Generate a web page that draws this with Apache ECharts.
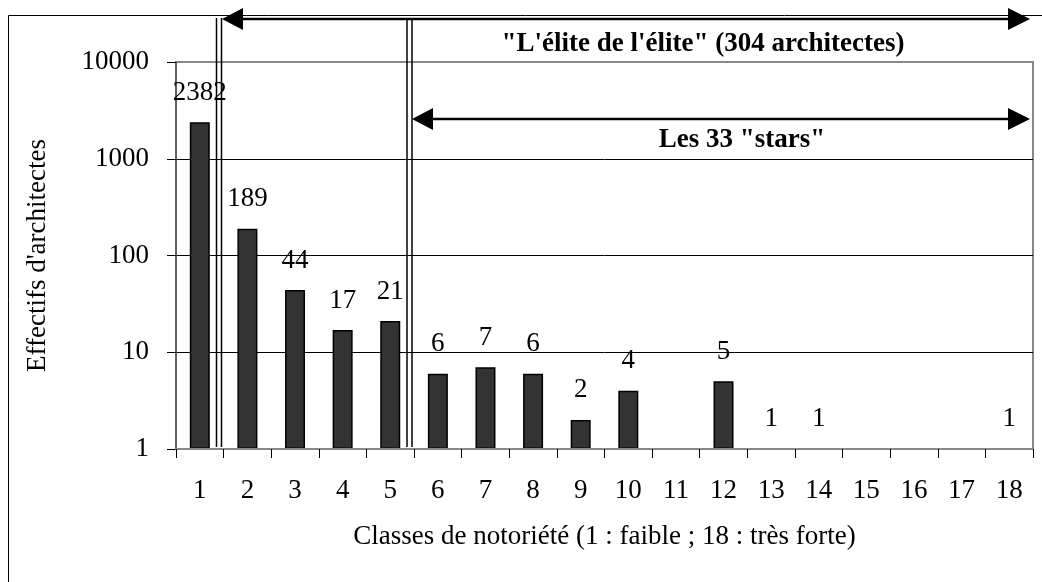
<!DOCTYPE html>
<html>
<head>
<meta charset="utf-8">
<script src="https://cdn.jsdelivr.net/npm/echarts@6/dist/echarts.min.js"></script>
<style>
    html, body { margin: 0; padding: 0; background: #ffffff; }
    #main { width: 1042px; height: 582px; }
</style>
</head>
<body>
<div id="main"></div>
<script>
    // classes de notoriété
    var categories = ['1', '2', '3', '4', '5', '6', '7', '8', '9', '10', '11', '12', '13', '14', '15', '16', '17', '18'];
    // effectifs (classes vides : '-')
    var effectifs = [2382, 189, 44, 17, 21, 6, 7, 6, 2, 4, '-', 5, 1, 1, '-', '-', '-', 1];
    var yTicks = [1, 10, 100, 1000, 10000];

    var serif = 'Liberation Serif, Times New Roman, serif';
    var chart = echarts.init(document.getElementById('main'));

    // flèche horizontale à deux pointes
    function arrow(x1, x2, y) {
        return [
            { type: 'line', shape: { x1: x1 + 18, y1: y, x2: x2 - 18, y2: y }, style: { stroke: '#000', lineWidth: 2.5 } },
            { type: 'polygon', shape: { points: [[x1, y], [x1 + 21, y - 11], [x1 + 21, y + 11]] }, style: { fill: '#000' } },
            { type: 'polygon', shape: { points: [[x2, y], [x2 - 22, y - 11], [x2 - 22, y + 11]] }, style: { fill: '#000' } }
        ];
    }
    // double trait vertical
    function doubleLine(x, y1, y2) {
        return [
            { type: 'line', shape: { x1: x, y1: y1, x2: x, y2: y2 }, style: { stroke: '#000', lineWidth: 1.5 } },
            { type: 'line', shape: { x1: x + 5, y1: y1, x2: x + 5, y2: y2 }, style: { stroke: '#000', lineWidth: 1.5 } }
        ];
    }

    var graphics = [
        { type: 'rect', shape: { x: 8.5, y: 15.5, width: 1040, height: 580 }, style: { fill: 'none', stroke: '#000', lineWidth: 1 } }
    ].concat(
        doubleLine(216.5, 18, 447),
        doubleLine(407, 18, 447),
        arrow(222, 1030, 19),
        arrow(412, 1030, 119),
        [
            { type: 'text', x: 703, y: 44, style: { text: '"L\'élite de l\'élite" (304 architectes)', font: 'bold 27px ' + serif, fill: '#000', align: 'center', verticalAlign: 'middle' } },
            { type: 'text', x: 742, y: 140, style: { text: 'Les 33 "stars"', font: 'bold 27px ' + serif, fill: '#000', align: 'center', verticalAlign: 'middle' } }
        ]
    );

    chart.setOption({
        animation: false,
        textStyle: { fontFamily: serif },
        grid: {
            left: 176, right: 9, top: 62, bottom: 133,
            show: true, borderColor: '#888888', borderWidth: 2, backgroundColor: 'transparent'
        },
        xAxis: {
            type: 'category',
            z: 3,
            data: categories,
            name: 'Classes de notoriété (1 : faible ; 18 : très forte)',
            nameLocation: 'middle',
            nameGap: 74,
            nameTextStyle: { fontSize: 27, color: '#000', fontFamily: serif },
            axisLine: { lineStyle: { color: '#888888', width: 2 } },
            axisTick: { show: true, length: 9, lineStyle: { color: '#000', width: 1 } },
            axisLabel: { fontSize: 27, color: '#000', margin: 28, fontFamily: serif },
            splitLine: { show: false }
        },
        yAxis: {
            type: 'log',
            logBase: 10,
            min: yTicks[0],
            max: yTicks[yTicks.length - 1],
            name: "Effectifs d'architectes",
            nameLocation: 'middle',
            nameGap: 125,
            nameTextStyle: { fontSize: 27, color: '#000', fontFamily: serif },
            axisLine: { show: true, lineStyle: { color: '#555555', width: 1.5 } },
            axisTick: { show: true, length: 9, lineStyle: { color: '#000', width: 1 } },
            axisLabel: { fontSize: 27, color: '#000', margin: 27, fontFamily: serif, formatter: function (v) { return String(v); } },
            splitLine: { show: true, showMinLine: false, showMaxLine: false, lineStyle: { color: '#000', width: 1 } }
        },
        series: [{
            type: 'bar',
            data: effectifs,
            barWidth: 20,
            itemStyle: { color: '#333333', borderColor: '#000', borderWidth: 1.5 },
            label: {
                show: true,
                position: 'top',
                distance: 16,
                fontSize: 27,
                color: '#000',
                fontFamily: serif
            }
        }],
        graphic: graphics
    });
</script>
</body>
</html>
